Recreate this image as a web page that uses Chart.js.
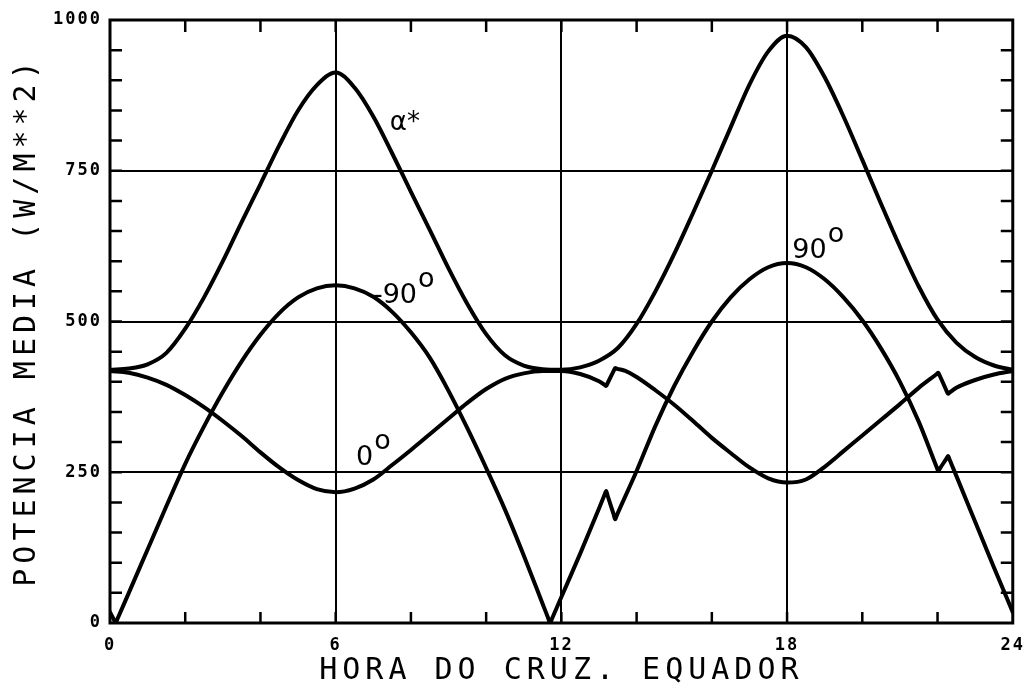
<!DOCTYPE html>
<html>
<head>
<meta charset="utf-8">
<script src="https://cdn.jsdelivr.net/npm/chart.js@4.4.1/dist/chart.umd.min.js"></script>
<style>
  html, body { margin: 0; padding: 0; background: #ffffff; }
  #wrap { width: 1035px; height: 688px; position: relative; }
  canvas { display: block; }
</style>
</head>
<body>
<div id="wrap"><canvas id="chart" width="1035" height="688" style="width:1035px;height:688px"></canvas></div>
<script>
// ---------- data ----------
const xTickLabels = [0, 6, 12, 18, 24];
const yTickLabels = [0, 250, 500, 750, 1000];

const alphaHours  = [0,0.5,1,1.5,2,2.5,3,3.5,4,4.5,5,5.5,6,6.5,7,7.5,8,8.5,9,9.5,10,10.5,11,11.5,12,12.5,13,13.5,14,14.5,15,15.5,16,16.5,17,17.5,18,18.5,19,19.5,20,20.5,21,21.5,22,22.5,23,23.5,24];
const alphaValues = [420,422,429,448,488,540,600,665,728,792,850,892,913,888,840,779,715,652,588,529,479,444,427,421,420,424,435,456,496,550,612,680,750,822,893,948,974,955,905,840,768,695,624,558,503,465,441,427,420];

const zeroHours  = [0,0.5,1,1.5,2,2.5,3,3.5,4,4.5,5,5.5,6,6.5,7,7.5,8,8.5,9,9.5,10,10.5,11,11.5,12,12.5,13,13.15,13.19,13.23,13.39,13.43,13.47,13.7,14,14.5,15,15.5,16,16.5,17,17.5,18,18.5,19,19.5,20,20.5,21,21.5,21.98,22.02,22.06,22.24,22.28,22.32,22.5,23,23.5,24];
const zeroValues = [418,415,407,395,378,358,335,310,283,258,237,222,217,223,238,262,287,313,339,365,388,405,414,418,418,413,401,395,393,398,418,423,422,418,408,386,362,335,307,282,258,240,233,238,259,285,311,337,363,390,413,415,410,385,380,382,390,403,412,418];

const ninetyHours  = [0,0.1,0.15,0.2,0.5,1,1.5,2,2.5,3,3.5,4,4.5,5,5.5,6,6.5,7,7.5,8,8.5,9,9.5,10,10.5,11,11.5,11.65,11.7,11.75,12,12.5,13,13.15,13.19,13.23,13.39,13.43,13.47,14,14.5,15,15.5,16,16.5,17,17.5,18,18.5,19,19.5,20,20.5,21,21.5,21.98,22.02,22.06,22.24,22.28,22.32,22.5,23,23.5,24];
const ninetyValues = [18,6,0,7,50,122,194,264,326,383,434,478,514,540,555,560,555,541,516,482,440,385,323,257,188,112,32,8,0,7,43,115,190,213,219,211,180,172,178,252,327,393,450,500,540,570,590,597,590,570,540,502,455,400,334,258,252,256,273,277,271,244,168,92,18];

const curveLabels      = ['α*', '-90', '90', '0'];
const curveLabelSup    = ['', 'o', 'o', 'o'];
const curveLabelHours  = [7.44, 6.99, 18.14, 6.54];
const curveLabelValues = [818, 530, 606, 262];

// ---------- helpers ----------
const zip = (xs, ys) => xs.map((x, i) => ({ x: x, y: ys[i] }));
const majorX = xTickLabels.slice(1, -1);
const majorY = yTickLabels.slice(1, -1);

const lineStyle = {
  borderColor: '#000000',
  borderWidth: 4,
  pointRadius: 0,
  pointHoverRadius: 0,
  fill: false,
  cubicInterpolationMode: 'monotone',
  borderCapStyle: 'round',
  borderJoinStyle: 'round'
};

// letter spacing for axis titles / tick labels (plotter style)
const spacingPlugin = {
  id: 'spacing',
  beforeDraw(chart) {
    Object.values(chart.scales).forEach(s => {
      if (s._spaced) return;
      s._spaced = true;
      const dt = s.drawTitle.bind(s);
      const dl = s.drawLabels.bind(s);
      s.drawTitle = function () { const c = this.ctx; c.save(); c.letterSpacing = '5px'; dt(); c.restore(); };
      s.drawLabels = function (a) { const c = this.ctx; c.save(); c.letterSpacing = '2px'; dl(a); c.restore(); };
    });
  }
};

// frame + inward ticks on all four sides, and curve labels
const framePlugin = {
  id: 'frame',
  afterDatasetsDraw(chart) {
    const { ctx, chartArea: a, scales: { x, y } } = chart;
    ctx.save();
    ctx.letterSpacing = '0px';
    ctx.strokeStyle = '#000';
    ctx.lineWidth = 2.5;
    ctx.lineCap = 'butt';
    ctx.beginPath();
    x.ticks.forEach(t => {
      if (t.value <= x.min || t.value >= x.max) return;
      const px = x.getPixelForValue(t.value);
      ctx.moveTo(px, a.bottom); ctx.lineTo(px, a.bottom - 11);
      ctx.moveTo(px, a.top); ctx.lineTo(px, a.top + 12);
    });
    y.ticks.forEach(t => {
      if (t.value <= y.min || t.value >= y.max) return;
      const py = y.getPixelForValue(t.value);
      ctx.moveTo(a.left, py); ctx.lineTo(a.left + 12, py);
      ctx.moveTo(a.right, py); ctx.lineTo(a.right - 12, py);
    });
    ctx.stroke();
    ctx.lineWidth = 3;
    ctx.strokeRect(a.left, a.top, a.right - a.left, a.bottom - a.top);

    ctx.fillStyle = '#000';
    ctx.textBaseline = 'alphabetic';
    ctx.textAlign = 'left';
    curveLabels.forEach((txt, i) => {
      const px = x.getPixelForValue(curveLabelHours[i]);
      const py = y.getPixelForValue(curveLabelValues[i]);
      ctx.font = (i === 0 ? '26px' : '27px') + ' "DejaVu Sans", sans-serif';
      ctx.fillText(txt, px, py);
      if (curveLabelSup[i]) {
        const w = ctx.measureText(txt).width;
        ctx.fillText(curveLabelSup[i], px + w + 1, py - 16);
      }
    });
    ctx.restore();
  }
};

const tickFont = { family: '"DejaVu Sans Mono", monospace', size: 17, weight: 'bold' };
const titleFont = { family: '"DejaVu Sans Mono", monospace', size: 30, weight: 'normal', lineHeight: 1.0 };

new Chart(document.getElementById('chart'), {
  type: 'line',
  data: {
    datasets: [
      Object.assign({ label: 'α*',  data: zip(alphaHours, alphaValues) }, lineStyle),
      Object.assign({ label: '0°',  data: zip(zeroHours, zeroValues) }, lineStyle),
      Object.assign({ label: '±90°', data: zip(ninetyHours, ninetyValues) }, lineStyle)
    ]
  },
  options: {
    responsive: false,
    devicePixelRatio: 1,
    animation: false,
    layout: { padding: { left: 0, right: 15, top: 20, bottom: 0 } },
    plugins: { legend: { display: false }, tooltip: { enabled: false } },
    scales: {
      x: {
        type: 'linear',
        min: 0, max: 24,
        border: { display: false },
        grid: {
          drawTicks: false,
          lineWidth: 2,
          color: c => majorX.includes(c.tick && c.tick.value) ? '#000' : 'rgba(0,0,0,0)'
        },
        ticks: {
          stepSize: 2, autoSkip: false, maxRotation: 0, padding: 12,
          color: '#000', font: tickFont,
          callback: v => xTickLabels.includes(v) ? String(v) : ''
        },
        title: { display: true, text: 'HORA DO CRUZ. EQUADOR', color: '#000', font: titleFont, padding: { top: 0, bottom: 2 } },
        afterFit: s => { s.height = 65; }
      },
      y: {
        type: 'linear',
        min: 0, max: 1000,
        border: { display: false },
        grid: {
          drawTicks: false,
          lineWidth: 2,
          color: c => majorY.includes(c.tick && c.tick.value) ? '#000' : 'rgba(0,0,0,0)'
        },
        ticks: {
          stepSize: 50, autoSkip: false, padding: 8,
          color: '#000', font: tickFont,
          callback: v => yTickLabels.includes(v) ? String(v) : ''
        },
        title: { display: true, text: 'POTENCIA MEDIA (W/M**2)', color: '#000', font: Object.assign({}, titleFont, { lineHeight: 1.2 }), padding: { top: 9, bottom: 0 } },
        afterFit: s => { s.width = 110; }
      }
    }
  },
  plugins: [spacingPlugin, framePlugin]
});
</script>
</body>
</html>
